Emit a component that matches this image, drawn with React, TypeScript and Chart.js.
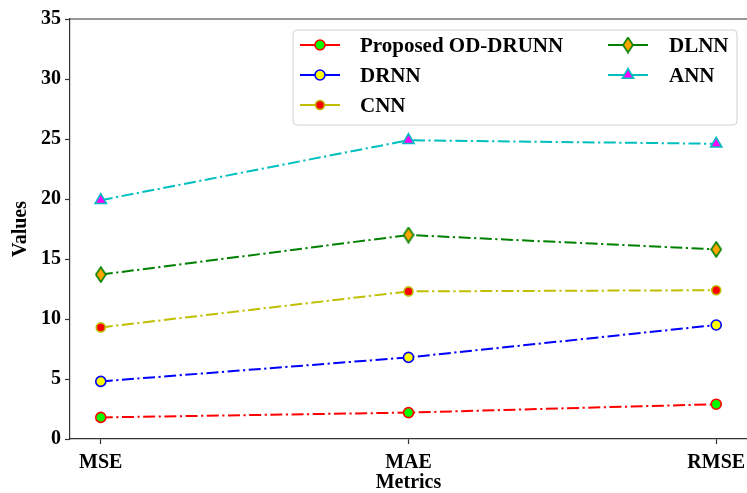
import React, { useEffect, useRef } from "react";
import { Chart, registerables } from "chart.js";
import { drawPoint } from "chart.js/helpers";

Chart.register(...registerables);

const categories = ["MSE", "MAE", "RMSE"];
const seriesNames = ["Proposed OD-DRUNN", "DRNN", "CNN", "DLNN", "ANN"];
const proposedValues = [1.8, 2.2, 2.9];
const drnnValues = [4.8, 6.8, 9.5];
const cnnValues = [9.3, 12.3, 12.4];
const dlnnValues = [13.7, 17.0, 15.8];
const annValues = [19.9, 24.9, 24.6];
const yTickValues = [0, 5, 10, 15, 20, 25, 30, 35];

const FONT = "'Liberation Serif', 'Times New Roman', serif";

function makeThinDiamond(fill: string, stroke: string) {
  const c = document.createElement("canvas");
  c.width = 12;
  c.height = 17;
  const g = c.getContext("2d")!;
  g.beginPath();
  g.moveTo(6, 1);
  g.lineTo(11, 8.5);
  g.lineTo(6, 16);
  g.lineTo(1, 8.5);
  g.closePath();
  g.fillStyle = fill;
  g.fill();
  g.lineWidth = 1.6;
  g.strokeStyle = stroke;
  g.stroke();
  return c;
}

export default function App() {
  const ref = useRef<HTMLCanvasElement>(null);

  useEffect(() => {
    const diamond = makeThinDiamond("#ffa500", "#008000");
    const dash = [12, 3.5, 2.2, 3.5];
    const styles = [
      { line: "#ff0000", fill: "#00ff00", border: "#ff0000", ps: "circle", r: 5 },
      { line: "#0000ff", fill: "#ffff00", border: "#0000ff", ps: "circle", r: 5 },
      { line: "#bfbf00", fill: "#ff0000", border: "#bfbf00", ps: "circle", r: 4.5 },
      { line: "#008000", fill: "#ffa500", border: "#008000", ps: diamond as any, r: 6 },
      { line: "#00bfbf", fill: "#ff00ff", border: "#00bfbf", ps: "triangle", r: 6.5 },
    ];
    const values = [proposedValues, drnnValues, cnnValues, dlnnValues, annValues];
    const datasets = values.map((vals, i) => ({
      label: seriesNames[i],
      data: vals.map((v, j) => ({ x: j, y: v })),
      borderColor: styles[i].line,
      borderWidth: 2,
      borderDash: dash,
      backgroundColor: styles[i].fill,
      pointBackgroundColor: styles[i].fill,
      pointBorderColor: styles[i].border,
      pointBorderWidth: 1.6,
      pointRadius: styles[i].r,
      pointStyle: styles[i].ps,
      tension: 0,
      clip: false,
    }));

    const legendPlugin = {
      id: "customLegend",
      afterDraw(chart: any) {
        const ctx = chart.ctx;
        const area = chart.chartArea;
        ctx.save();
        // top spine
        ctx.strokeStyle = "#333333";
        ctx.lineWidth = 1.2;
        ctx.beginPath();
        ctx.moveTo(area.left, area.top);
        ctx.lineTo(area.right, area.top);
        ctx.stroke();
        // legend box
        const bx = 293, by = 30, bw = 444, bh = 95, rr = 4;
        ctx.beginPath();
        ctx.moveTo(bx + rr, by);
        ctx.lineTo(bx + bw - rr, by);
        ctx.quadraticCurveTo(bx + bw, by, bx + bw, by + rr);
        ctx.lineTo(bx + bw, by + bh - rr);
        ctx.quadraticCurveTo(bx + bw, by + bh, bx + bw - rr, by + bh);
        ctx.lineTo(bx + rr, by + bh);
        ctx.quadraticCurveTo(bx, by + bh, bx, by + bh - rr);
        ctx.lineTo(bx, by + rr);
        ctx.quadraticCurveTo(bx, by, bx + rr, by);
        ctx.closePath();
        ctx.fillStyle = "rgba(255,255,255,0.85)";
        ctx.fill();
        ctx.strokeStyle = "#d0d0d0";
        ctx.lineWidth = 1;
        ctx.stroke();
        const pos = [
          { lx: 300, ty: 45 },
          { lx: 300, ty: 75 },
          { lx: 300, ty: 105 },
          { lx: 608, ty: 45 },
          { lx: 608, ty: 75 },
        ];
        const textX = [360, 360, 360, 669, 669];
        chart.data.datasets.forEach((ds: any, i: number) => {
          const p = pos[i];
          ctx.strokeStyle = ds.borderColor;
          ctx.lineWidth = 2;
          ctx.setLineDash([]);
          ctx.beginPath();
          ctx.moveTo(p.lx, p.ty);
          ctx.lineTo(p.lx + 40, p.ty);
          ctx.stroke();
          ctx.fillStyle = ds.pointBackgroundColor;
          ctx.strokeStyle = ds.pointBorderColor;
          ctx.lineWidth = ds.pointBorderWidth;
          drawPoint(ctx, { pointStyle: ds.pointStyle, rotation: 0, radius: ds.pointRadius, borderWidth: ds.pointBorderWidth }, p.lx + 20, p.ty);
          ctx.fillStyle = "#000000";
          ctx.font = `bold 21px ${FONT}`;
          ctx.textBaseline = "middle";
          ctx.textAlign = "left";
          ctx.fillText(ds.label, textX[i], p.ty + 1.5);
        });
        ctx.restore();
      },
    };

    const chart = new Chart(ref.current!, {
      type: "line",
      data: { datasets: datasets as any },
      plugins: [legendPlugin],
      options: {
        animation: false,
        responsive: false,
        layout: { autoPadding: false, padding: { top: 19, right: 0, left: 0, bottom: 0 } },
        plugins: { legend: { display: false }, tooltip: { enabled: false } },
        scales: {
          x: {
            type: "linear",
            min: -0.1,
            max: 2.1,
            afterBuildTicks: (scale: any) => {
              scale.ticks = categories.map((_, i) => ({ value: i }));
            },
            afterFit: (scale: any) => {
              scale.height = 54;
              scale.paddingLeft = 0;
              scale.paddingRight = 0;
            },
            ticks: {
              callback: (v: any) => categories[v] ?? "",
              color: "#000",
              font: { family: FONT, weight: "bold", size: 20 },
              padding: 7,
              maxRotation: 0,
              autoSkip: false,
            },
            grid: { drawOnChartArea: false, drawTicks: true, tickLength: 5, tickColor: "#333", tickWidth: 1.2 },
            border: { display: true, color: "#333", width: 1.2 },
            title: {
              display: true,
              text: "Metrics",
              color: "#000",
              font: { family: FONT, weight: "bold", size: 20 },
              padding: { top: 0, bottom: -1.5 },
            },
          },
          y: {
            min: 0,
            max: 35,
            afterBuildTicks: (scale: any) => {
              scale.ticks = yTickValues.map((v) => ({ value: v }));
            },
            afterFit: (scale: any) => {
              scale.width = 70;
              scale.paddingTop = 0;
              scale.paddingBottom = 0;
            },
            ticks: {
              color: "#000",
              font: { family: FONT, weight: "bold", size: 20 },
              padding: 4,
            },
            grid: { drawOnChartArea: false, drawTicks: true, tickLength: 5, tickColor: "#333", tickWidth: 1.2 },
            border: { display: true, color: "#333", width: 1.2 },
            title: {
              display: true,
              text: "Values",
              color: "#000",
              font: { family: FONT, weight: "bold", size: 20 },
              padding: { top: 9, bottom: 0 },
            },
          },
        },
      },
    });
    return () => chart.destroy();
  }, []);

  return (
    <div style={{ position: "absolute", left: 0, top: 0, width: 747, height: 493, background: "#fff" }}>
      <canvas ref={ref} width={747} height={493} style={{ display: "block" }} />
    </div>
  );
}
